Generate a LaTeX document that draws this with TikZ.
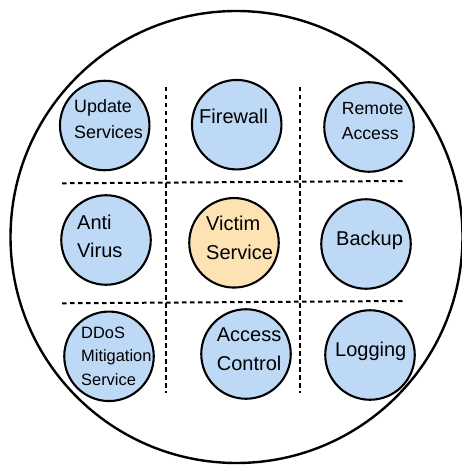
\documentclass[tikz,border=0pt]{standalone}
\usepackage{fontspec}
\setmainfont{Liberation Sans}
\definecolor{svcblue}{HTML}{BDD9F6}
\definecolor{victim}{HTML}{FDE2B4}
\begin{document}
\begin{tikzpicture}[x=1pt,y=-1pt,
  svc/.style={circle,draw=black,line width=2.1pt,fill=svcblue,minimum size=89.5pt,inner sep=0pt},
  vic/.style={svc,fill=victim},
  lbl/.style={anchor=base west,inner sep=0pt,align=left,font=\fontsize{20}{28.4}\selectfont},
  sep/.style={line width=2pt,dash pattern=on 4.5pt off 3.5pt}]
\useasboundingbox (0,0) rectangle (462,465);
\node[circle,draw=black,line width=2.4pt,minimum size=452pt,inner sep=0pt] (outer) at (236.5,237) {};
% separators
\coordinate (v1t) at (165.7,87); \coordinate (v1b) at (165.7,393);
\coordinate (v2t) at (300,87);   \coordinate (v2b) at (300,393);
\coordinate (h1l) at (62,183.3); \coordinate (h1r) at (403,181);
\coordinate (h2l) at (62,303.3); \coordinate (h2r) at (403,301);
\draw[sep] (v1t) -- (v1b);
\draw[sep] (v2t) -- (v2b);
\draw[sep] (h1l) -- (h1r);
\draw[sep] (h2l) -- (h2r);
% circles
\node[svc] (upd) at (104.7,125.5) {};
\node[svc] (fw)  at (236.7,124.7) {};
\node[svc] (ra)  at (369,127) {};
\node[svc] (av)  at (106,240) {};
\node[vic] (vs)  at (234,242.8) {};
\node[svc] (bk)  at (366,244) {};
\node[svc] (dd)  at (109,356.3) {};
\node[svc] (ac)  at (246,354) {};
\node[svc] (lg)  at (370,355) {};
% labels (anchor = baseline of last line)
\node[lbl,font=\fontsize{17.9}{26}\selectfont] (tupd) at (74,139) {Update\\Services};
\node[lbl] (tfw) at (199,123.3) {Firewall};
\node[lbl,font=\fontsize{17.6}{25}\selectfont] (tra) at (341.7,140) {Remote\\Access};
\node[lbl] (tav) at (77,257.7) {Anti\\Virus};
\node[lbl,font=\fontsize{20}{29}\selectfont] (tvs) at (206,259) {Victim\\Service};
\node[lbl] (tbk) at (336,245) {Backup};
\node[lbl,font=\fontsize{16.4}{23.4}\selectfont] (tdd) at (81,385) {DDoS\\Mitigation\\Service};
\node[lbl,font=\fontsize{20}{29}\selectfont] (tac) at (216.7,370.7) {Access\\Control};
\node[lbl] (tlg) at (335,356) {Logging};
\end{tikzpicture}
\end{document}
